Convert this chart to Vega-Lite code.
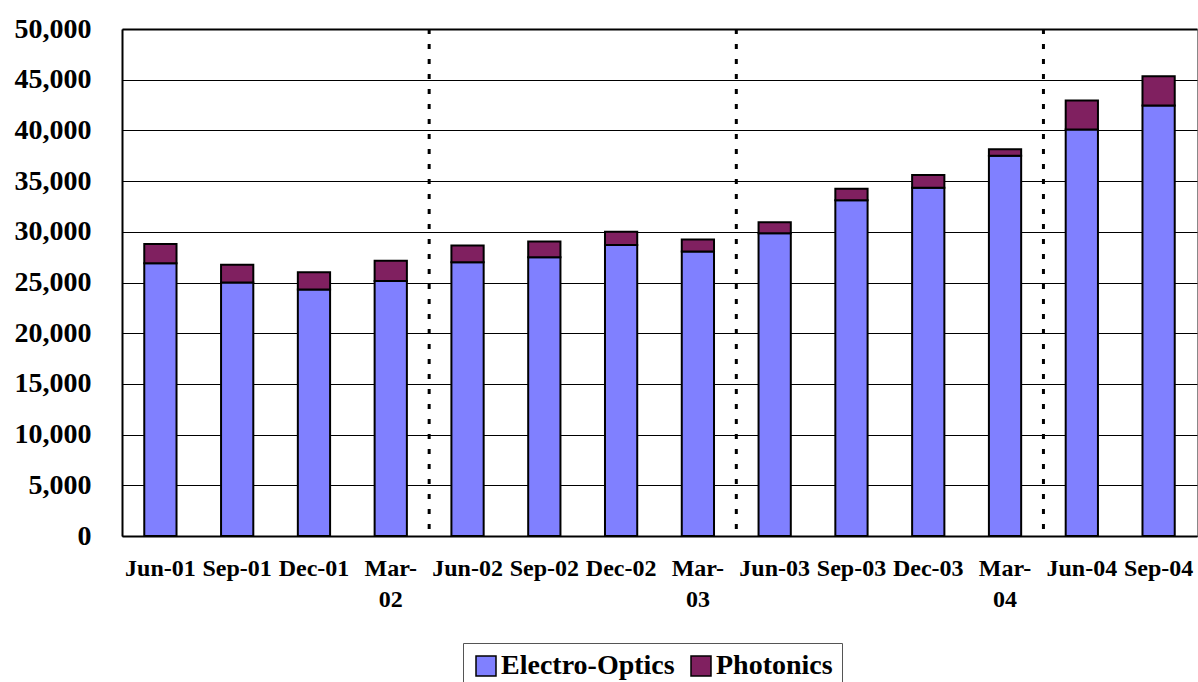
{
  "$schema": "https://vega.github.io/schema/vega-lite/v6.json",
  "autosize": "none",
  "width": 1075,
  "height": 507,
  "padding": {"left": 122, "top": 29, "right": 1, "bottom": 146},
  "background": "white",
  "config": {
    "view": {"stroke": "#888888", "strokeWidth": 1},
    "font": "Liberation Serif"
  },
  "datasets": {
    "sales": [
      {"quarter": "Jun-01", "segment": "Electro-Optics", "value": 26900},
      {"quarter": "Jun-01", "segment": "Photonics", "value": 1900},
      {"quarter": "Sep-01", "segment": "Electro-Optics", "value": 25000},
      {"quarter": "Sep-01", "segment": "Photonics", "value": 1750},
      {"quarter": "Dec-01", "segment": "Electro-Optics", "value": 24300},
      {"quarter": "Dec-01", "segment": "Photonics", "value": 1700},
      {"quarter": "Mar-02", "segment": "Electro-Optics", "value": 25150},
      {"quarter": "Mar-02", "segment": "Photonics", "value": 2000},
      {"quarter": "Jun-02", "segment": "Electro-Optics", "value": 27000},
      {"quarter": "Jun-02", "segment": "Photonics", "value": 1650},
      {"quarter": "Sep-02", "segment": "Electro-Optics", "value": 27500},
      {"quarter": "Sep-02", "segment": "Photonics", "value": 1550},
      {"quarter": "Dec-02", "segment": "Electro-Optics", "value": 28700},
      {"quarter": "Dec-02", "segment": "Photonics", "value": 1300},
      {"quarter": "Mar-03", "segment": "Electro-Optics", "value": 28050},
      {"quarter": "Mar-03", "segment": "Photonics", "value": 1200},
      {"quarter": "Jun-03", "segment": "Electro-Optics", "value": 29850},
      {"quarter": "Jun-03", "segment": "Photonics", "value": 1100},
      {"quarter": "Sep-03", "segment": "Electro-Optics", "value": 33100},
      {"quarter": "Sep-03", "segment": "Photonics", "value": 1150},
      {"quarter": "Dec-03", "segment": "Electro-Optics", "value": 34350},
      {"quarter": "Dec-03", "segment": "Photonics", "value": 1250},
      {"quarter": "Mar-04", "segment": "Electro-Optics", "value": 37500},
      {"quarter": "Mar-04", "segment": "Photonics", "value": 650},
      {"quarter": "Jun-04", "segment": "Electro-Optics", "value": 40100},
      {"quarter": "Jun-04", "segment": "Photonics", "value": 2850},
      {"quarter": "Sep-04", "segment": "Electro-Optics", "value": 42450},
      {"quarter": "Sep-04", "segment": "Photonics", "value": 2900}
    ],
    "years": [
      {"quarter": "Jun-02"},
      {"quarter": "Jun-03"},
      {"quarter": "Jun-04"}
    ]
  },
  "layer": [
    {
      "data": {"name": "sales"},
      "mark": {"type": "bar", "stroke": "black", "strokeWidth": 2},
      "encoding": {
        "x": {
          "field": "quarter",
          "type": "nominal",
          "scale": {
            "domain": ["Jun-01", "Sep-01", "Dec-01", "Mar-02", "Jun-02", "Sep-02", "Dec-02", "Mar-03", "Jun-03", "Sep-03", "Dec-03", "Mar-04", "Jun-04", "Sep-04"],
            "paddingInner": 0.58,
            "paddingOuter": 0.29
          },
          "axis": {
            "title": null,
            "labelAngle": 0,
            "ticks": false,
            "grid": false,
            "domainColor": "black",
            "domainWidth": 2,
            "labelFont": "Liberation Serif",
            "labelFontWeight": "bold",
            "labelFontSize": 24,
            "labelColor": "black",
            "labelPadding": 20,
            "labelBaseline": "top",
            "labelLineHeight": 31,
            "labelOverlap": false,
            "labelExpr": "indexof(datum.value, 'Mar') == 0 ? ['Mar-', substring(datum.value, 4)] : datum.value"
          }
        },
        "y": {
          "field": "value",
          "type": "quantitative",
          "aggregate": "sum",
          "stack": "zero",
          "scale": {"domain": [0, 50000], "nice": false},
          "axis": {
            "title": null,
            "values": [0, 5000, 10000, 15000, 20000, 25000, 30000, 35000, 40000, 45000, 50000],
            "format": ",d",
            "ticks": false,
            "grid": true,
            "gridColor": "black",
            "gridOpacity": 1,
            "gridWidth": {"condition": {"test": "datum.value == 50000", "value": 2}, "value": 1},
            "domainColor": "black",
            "domainWidth": 2,
            "labelFont": "Liberation Serif",
            "labelFontWeight": "bold",
            "labelFontSize": 28,
            "labelColor": "black",
            "labelPadding": 31
          }
        },
        "order": {"field": "segment", "sort": "ascending"},
        "color": {
          "field": "segment",
          "type": "nominal",
          "scale": {"domain": ["Electro-Optics", "Photonics"], "range": ["#8080FF", "#802060"]},
          "legend": {
            "title": null,
            "orient": "none",
            "direction": "horizontal",
            "legendX": 341,
            "legendY": 614,
            "padding": 9,
            "strokeColor": "#555555",
            "fillColor": "white",
            "symbolType": "square",
            "symbolSize": 400,
            "symbolStrokeColor": "black",
            "symbolStrokeWidth": 1.5,
            "symbolOpacity": 1,
            "labelFont": "Liberation Serif",
            "labelFontWeight": "bold",
            "labelFontSize": 28,
            "labelColor": "black",
            "labelOffset": 1,
            "columnPadding": 12,
            "labelLimit": 400
          }
        }
      }
    },
    {
      "data": {"name": "years"},
      "mark": {"type": "rule", "color": "black", "strokeWidth": 3, "strokeDash": [5, 10]},
      "encoding": {
        "x": {"field": "quarter", "type": "nominal", "bandPosition": -0.69}
      }
    }
  ]
}
